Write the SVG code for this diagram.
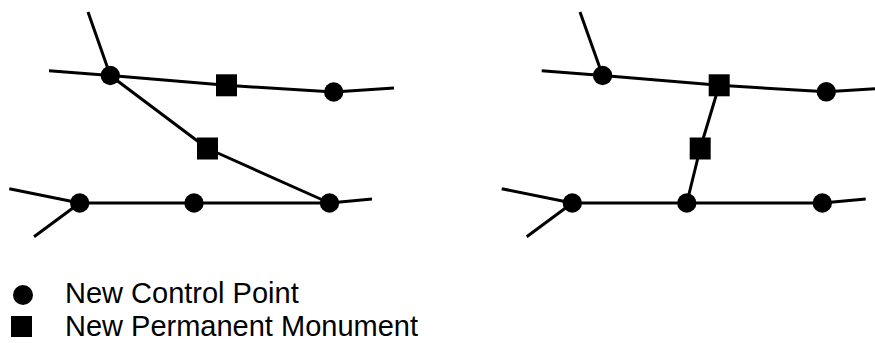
<svg xmlns="http://www.w3.org/2000/svg" width="875" height="343" viewBox="0 0 875 343">
<style>
.ln{fill:none;stroke:#000;stroke-width:3;stroke-linejoin:round}
.pt{fill:#000}
.lbl{font-family:"Liberation Sans",Arial,sans-serif;font-size:29px;fill:#000}
</style>
<defs>
<circle id="cp" r="9.7" class="pt"/>
<rect id="pm" x="-10.5" y="-11" width="21" height="22" class="pt"/>
</defs>
<rect width="875" height="343" fill="#fff"/>
<g id="connectors">
<polyline class="ln" points="88,12 110.3,75.5"/>
<polyline class="ln" points="49,70.7 110.3,75.5 226.5,85.3 333.7,92 394,88"/>
<polyline class="ln" points="110.3,75.5 207.5,148.5 329.5,203"/>
<polyline class="ln" points="9.3,188.7 79.7,203 194,203 329.5,203 372,199"/>
<polyline class="ln" points="79.7,203 34,236.7"/>
<polyline class="ln" points="580,12 602.6,75.5"/>
<polyline class="ln" points="541.7,70.7 602.6,75.5 719.2,85.3 826.3,91.8 875,88.7"/>
<polyline class="ln" points="719.2,85.3 700.2,148.5 686.8,203"/>
<polyline class="ln" points="501.7,188.7 572.3,203 686.8,203 822.3,203 865.7,199"/>
<polyline class="ln" points="572.3,203 526.7,236.7"/>
</g>
<g id="L_cp1"><use href="#cp" x="110.3" y="75.5"/></g>
<g id="L_pm1"><use href="#pm" x="226.5" y="85.3"/></g>
<g id="L_cp2"><use href="#cp" x="333.7" y="92"/></g>
<g id="L_pm2"><use href="#pm" x="207.5" y="148.5"/></g>
<g id="L_cp3"><use href="#cp" x="79.7" y="203"/></g>
<g id="L_cp4"><use href="#cp" x="194" y="203"/></g>
<g id="L_cp5"><use href="#cp" x="329.5" y="203"/></g>
<g id="R_cp1"><use href="#cp" x="602.6" y="75.5"/></g>
<g id="R_pm1"><use href="#pm" x="719.2" y="85.3"/></g>
<g id="R_cp2"><use href="#cp" x="826.3" y="91.8"/></g>
<g id="R_pm2"><use href="#pm" x="700.2" y="148.5"/></g>
<g id="R_cp3"><use href="#cp" x="572.3" y="203"/></g>
<g id="R_cp4"><use href="#cp" x="686.8" y="203"/></g>
<g id="R_cp5"><use href="#cp" x="822.3" y="203"/></g>
<g id="legend">
<circle cx="23" cy="295" r="10" class="pt"/>
<rect x="11" y="316" width="21" height="21" class="pt"/>
<text class="lbl" x="65" y="303">New Control Point</text>
<text class="lbl" x="65" y="336">New Permanent Monument</text>
</g>
</svg>
